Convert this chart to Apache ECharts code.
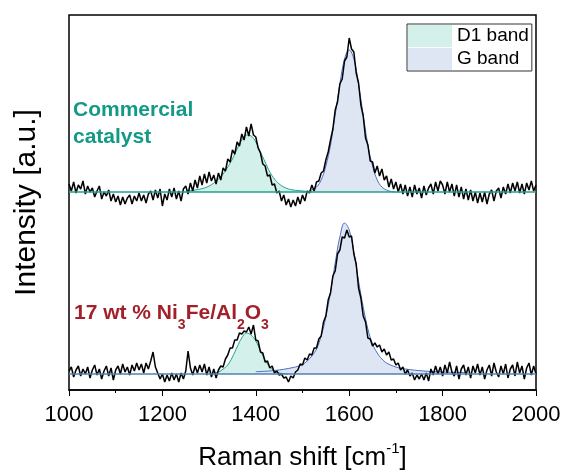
<!DOCTYPE html>
<html>
<head>
<meta charset="utf-8">
<script src="https://cdn.jsdelivr.net/npm/echarts@6/dist/echarts.min.js"></script>
<style>
  html, body { margin: 0; padding: 0; background: #fff; }
  #main { width: 563px; height: 470px; }
</style>
</head>
<body>
<div id="main"></div>
<script>
// Raman spectra, sampled every 5 cm-1 from 1000 to 2000 (intensity in arbitrary units)
const shiftStart = 1000;
const shiftStep = 5;

const commercialSpectrum = [
  206, 199, 208, 197, 205, 201, 209, 196, 204, 198,
  202, 193, 199, 204, 191, 198, 194, 200, 189, 196,
  188, 194, 185, 193, 186, 192, 195, 186, 194, 189,
  197, 189, 195, 187, 196, 199, 190, 200, 192, 201,
  184, 196, 190, 201, 193, 202, 191, 199, 189, 201,
  204, 196, 207, 199, 210, 202, 214, 205, 216, 207,
  218, 209, 215, 206, 217, 210, 222, 219, 231, 228,
  240, 236, 248, 244, 256, 250, 263, 254, 266, 255,
  253, 242, 237, 226, 224, 214, 215, 205, 206, 197,
  199, 189, 195, 185, 191, 183, 190, 184, 193, 186,
  195, 189, 199, 197, 205, 199, 208, 209, 217, 219,
  230, 238, 250, 261, 280, 288, 306, 311, 329, 333,
  352, 341, 338, 317, 307, 285, 274, 252, 245, 229,
  228, 217, 224, 214, 221, 210, 214, 203, 211, 201,
  208, 198, 206, 196, 205, 194, 203, 193, 205, 196,
  202, 192, 204, 195, 202, 206, 196, 208, 199, 209,
  205, 196, 208, 198, 206, 194, 205, 193, 203, 191,
  201, 190, 200, 189, 198, 187, 197, 188, 198, 186,
  196, 200, 189, 199, 202, 192, 203, 196, 206, 197,
  207, 199, 208, 197, 206, 196, 207, 200, 209, 199,
  205
];

const nifeSpectrum = [
  19, 23, 13, 20, 24, 14, 21, 16, 23, 12,
  20, 25, 15, 21, 11, 19, 24, 14, 22, 10,
  20, 24, 16, 26, 18, 23, 15, 25, 19, 27,
  20, 26, 17, 27, 21, 29, 38, 23, 17, 11,
  16, 8, 15, 9, 17, 10, 16, 8, 17, 11,
  19, 39, 22, 15, 24, 17, 25, 18, 26, 15,
  23, 13, 21, 12, 20, 24, 23, 31, 35, 42,
  42, 50, 50, 57, 56, 59, 58, 63, 56, 65,
  50, 49, 38, 37, 28, 29, 22, 24, 17, 19,
  15, 16, 12, 13, 8, 14, 12, 18, 20, 26,
  25, 32, 30, 36, 35, 42, 42, 51, 54, 68,
  74, 90, 97, 114, 119, 136, 140, 153, 152, 160,
  153, 154, 136, 126, 102, 92, 74, 68, 52, 51,
  44, 47, 43, 45, 38, 41, 35, 38, 30, 31,
  25, 27, 20, 23, 16, 20, 14, 17, 10, 15,
  11, 16, 10, 17, 9, 21, 15, 24, 16, 23,
  14, 25, 17, 28, 18, 14, 24, 11, 21, 25,
  15, 23, 12, 24, 17, 26, 15, 23, 11, 20,
  25, 14, 27, 18, 13, 24, 16, 26, 12, 21,
  25, 14, 28, 17, 24, 11, 22, 27, 15, 24,
  16
];

// fitted bands: positions and heights above each spectrum's baseline
const commercialBase = 198;
const nifeBase = 16;

const d1TopX = [1250, 1270, 1290, 1300, 1310, 1320, 1330, 1340, 1350, 1360, 1370, 1380, 1390, 1400, 1410, 1420, 1430, 1440, 1450, 1460, 1470, 1480, 1500, 1520];
const d1TopH = [1, 2, 4, 6, 9, 13, 18, 25, 33, 43, 52, 57, 56, 50, 40, 30, 20, 13, 8, 5, 3, 2, 1, 0];

const gTopX = [1500, 1510, 1520, 1530, 1540, 1550, 1560, 1570, 1580, 1590, 1600, 1610, 1620, 1630, 1640, 1650, 1660, 1670, 1680, 1690, 1700];
const gTopH = [0, 0.3, 2, 5, 12, 26, 47, 77, 108, 133, 142, 133, 108, 77, 47, 26, 12, 5, 2, 0.5, 0];

const d1BotX = [1300, 1310, 1320, 1330, 1340, 1350, 1360, 1370, 1380, 1390, 1400, 1410, 1420, 1430, 1440, 1450, 1460, 1470];
const d1BotH = [0.3, 1, 2, 5, 9, 17, 27, 36, 41, 39, 33, 23, 14, 7, 3, 1, 0.4, 0];

const gBotX = [1400, 1440, 1480, 1500, 1510, 1520, 1530, 1540, 1550, 1560, 1570, 1580, 1590, 1600, 1610, 1620, 1630, 1640, 1650, 1660, 1670, 1680, 1700, 1720, 1760, 1800, 1850];
const gBotH = [2.3, 3.5, 6.5, 9.5, 13, 18, 25, 38, 57, 82, 111, 137, 151, 144, 122, 93, 67, 45, 30, 21, 15, 11, 7, 5, 3, 2, 1.5];

const xTicks = [1000, 1200, 1400, 1600, 1800, 2000];

const teal = '#22a08c';
const tealFill = '#d3f1ea';
const blue = '#4a6fbf';
const blueFill = '#dfe6f3';
const baseBlue = '#4f80b8';

const toPairs = (arr) => arr.map((v, i) => [shiftStart + shiftStep * i, v]);
const bandPairs = (xs, hs, base) => xs.map((x, i) => [x, base + hs[i]]);

function band(name, xs, hs, base, line, fill) {
  return {
    name: name,
    type: 'line',
    data: bandPairs(xs, hs, base),
    smooth: 0.4,
    symbol: 'none',
    lineStyle: { color: line, width: 1 },
    itemStyle: { color: fill },
    areaStyle: { color: fill, opacity: 1, origin: base },
    z: 1
  };
}

function spectrum(name, arr) {
  return {
    name: name,
    type: 'line',
    data: toPairs(arr),
    symbol: 'none',
    lineStyle: { color: '#000', width: 1.5 },
    z: 3
  };
}

function baseline(value, color) {
  return {
    type: 'line',
    data: [[1000, value], [2000, value]],
    symbol: 'none',
    silent: true,
    lineStyle: { color: color, width: 1.3 },
    z: 4
  };
}

const chart = echarts.init(document.getElementById('main'));

chart.setOption({
  animation: false,
  textStyle: { fontFamily: 'Liberation Sans, Arial, sans-serif' },
  grid: {
    left: 69, right: 27, top: 15, bottom: 80,
    outerBoundsMode: 'none',
    containLabel: false,
    show: true, borderColor: '#000', borderWidth: 1.5
  },
  legend: {
    left: 407, top: 24,
    orient: 'vertical',
    itemWidth: 44, itemHeight: 22, itemGap: 1,
    padding: [1, 3, 1, 1],
    borderColor: '#333', borderWidth: 1,
    textStyle: { fontSize: 19, color: '#000', lineHeight: 22 },
    selectedMode: false,
    data: [
      { name: 'D1 band', icon: 'rect', itemStyle: { color: tealFill, borderWidth: 0 }, lineStyle: { width: 0 } },
      { name: 'G band', icon: 'rect', itemStyle: { color: blueFill, borderWidth: 0 }, lineStyle: { width: 0 } }
    ]
  },
  xAxis: {
    type: 'value',
    min: 1000, max: 2000, interval: 200,
    name: '{a|Raman shift [cm}{s|-1}{a|]}',
    nameLocation: 'middle',
    nameGap: 51,
    nameTextStyle: {
      rich: {
        a: { fontSize: 26, color: '#000', lineHeight: 30, verticalAlign: 'bottom' },
        s: { fontSize: 15, color: '#000', lineHeight: 30, verticalAlign: 'top' }
      }
    },
    axisLine: { lineStyle: { color: '#000', width: 1.5 } },
    axisTick: { show: true, length: 6, lineStyle: { color: '#000', width: 1 } },
    minorTick: { show: true, splitNumber: 2, length: 3, lineStyle: { color: '#000', width: 1 } },
    axisLabel: {
      fontSize: 22, color: '#000', margin: 14,
      formatter: (v) => (xTicks.indexOf(v) >= 0 ? String(v) : '')
    },
    splitLine: { show: false }
  },
  yAxis: {
    type: 'value',
    min: 0, max: 375,
    name: 'Intensity [a.u.]',
    nameLocation: 'middle',
    nameGap: 27,
    nameTextStyle: { fontSize: 30, color: '#000' },
    axisLine: { show: false },
    axisTick: { show: false },
    axisLabel: { show: false },
    splitLine: { show: false }
  },
  graphic: [
    {
      type: 'text', left: 73, top: 97,
      style: {
        text: 'Commercial\ncatalyst',
        font: 'bold 21px Liberation Sans, Arial, sans-serif',
        lineHeight: 27,
        fill: '#139a86'
      }
    },
    {
      type: 'text', left: 74, top: 303,
      style: {
        text: '{a|17 wt % Ni}{s|3}{a|Fe/Al}{s|2}{a|O}{s|3}',
        rich: {
          a: { fontSize: 21, fontWeight: 'bold', fill: '#a3202a', lineHeight: 26, verticalAlign: 'top' },
          s: { fontSize: 14, fontWeight: 'bold', fill: '#a3202a', lineHeight: 14, verticalAlign: 'top', padding: [15, 0, 0, 0] }
        }
      }
    }
  ],
  series: [
    band('D1 band', d1TopX, d1TopH, commercialBase, teal, tealFill),
    band('G band', gTopX, gTopH, commercialBase, blue, blueFill),
    band('D1 band', d1BotX, d1BotH, nifeBase, teal, tealFill),
    band('G band', gBotX, gBotH, nifeBase, blue, blueFill),
    spectrum('Commercial catalyst', commercialSpectrum),
    spectrum('17 wt % Ni3Fe/Al2O3', nifeSpectrum),
    baseline(commercialBase, teal),
    baseline(nifeBase, baseBlue)
  ]
});
</script>
</body>
</html>
